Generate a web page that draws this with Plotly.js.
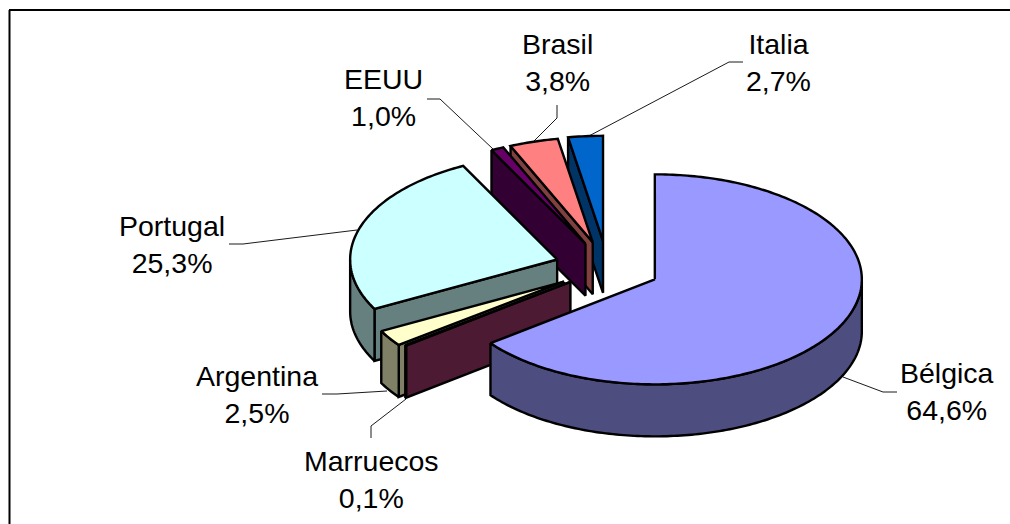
<!DOCTYPE html>
<html>
<head>
<meta charset="utf-8">
<script src="https://cdn.plot.ly/plotly-3.0.1.min.js"></script>
<style>html,body{margin:0;padding:0;background:#fff}#chart{width:1010px;height:524px}</style>
</head>
<body>
<div id="chart"></div>
<script>
// Data, clockwise from 12 o'clock
const categories = ["Bélgica", "Marruecos", "Argentina", "Portugal", "EEUU", "Brasil", "Italia"];
const shares = [64.6, 0.1, 2.5, 25.3, 1.0, 3.8, 2.7];
const topColors = ["#9999FF", "#993366", "#FFFFCC", "#CCFFFF", "#660066", "#FF8080", "#0066CC"];
const sideColors = ["#4D4D80", "#4D1A33", "#808066", "#668080", "#330033", "#804040", "#003366"];

// Pie projection (drawn on pixel-scaled hidden axes)
const centre = {x: 607.5, y: 267.5};
const radiusX = 207, radiusY = 105, depth = 52;
const explode = [0.255, 0.225, 0.25, 0.255, 0.25, 0.25, 0.255];
const outline = {color: "#000", width: 2.4};

// Label placement and leader lines
const labelX = [947, 371, 257, 172, 383, 557, 778];
const labelY = [391, 479, 394, 244, 97, 62, 62];
const leaders = [
  [[897,392],[883,392],[843,377]],
  [[371,438],[371,426],[406,399]],
  [[322,394],[337,394],[387,391]],
  [[229,244],[243,244],[357,230]],
  [[427,99],[440,99],[493,149]],
  [[557,105],[557,118],[533,142]],
  [[743,62],[729,62],[587,137]]
];

const rad = d => d * Math.PI / 180;
const total = shares.reduce((a, b) => a + b, 0);
let cursor = 0;
const slices = shares.map((v, i) => {
  const start = cursor, end = cursor + v / total * 360;
  cursor = end;
  const mid = rad((start + end) / 2);
  return {i, start, end,
    apex: {x: centre.x + explode[i] * radiusX * Math.sin(mid),
           y: centre.y - explode[i] * radiusY * Math.cos(mid)}};
});

function rim(s, deg, dz) {
  return {x: s.apex.x + radiusX * Math.sin(rad(deg)),
          y: s.apex.y - radiusY * Math.cos(rad(deg)) + dz};
}
function arc(s, a, b, dz) {
  const pts = [], n = Math.max(2, Math.ceil(Math.abs(b - a)));
  for (let k = 0; k <= n; k++) pts.push(rim(s, a + (b - a) * k / n, dz));
  return pts;
}
function poly(pts, color) {
  const p = pts.concat([pts[0]]);
  return {type: "scatter", mode: "lines", x: p.map(q => q.x), y: p.map(q => q.y),
    fill: "toself", fillcolor: color, line: {color: outline.color, width: outline.width, simplify: false},
    hoverinfo: "skip", showlegend: false};
}

const traces = [];
// Painter's order: back slices first, Bélgica last
[6, 5, 4, 3, 2, 1, 0].forEach(idx => {
  const s = slices[idx], top = topColors[idx], side = sideColors[idx];
  const a0 = {x: s.apex.x, y: s.apex.y}, a1 = {x: s.apex.x, y: s.apex.y + depth};
  if (s.start > 180) {
    const r = rim(s, s.start, 0), rb = rim(s, s.start, depth);
    traces.push(poly([a0, r, rb, a1], side));
  }
  const f0 = Math.max(s.start, 90), f1 = Math.min(s.end, 270);
  if (f1 > f0) {
    traces.push(poly(arc(s, f0, f1, 0).concat(arc(s, f1, f0, depth)), side));
  }
  traces.push(poly([a0].concat(arc(s, s.start, s.end, 0)), top));
});
leaders.forEach(l => traces.push({type: "scatter", mode: "lines",
  x: l.map(p => p[0]), y: l.map(p => p[1]),
  line: {color: "#000", width: 0.9}, hoverinfo: "skip", showlegend: false}));

const annotations = categories.map((c, i) => ({
  x: labelX[i], y: labelY[i], xref: "x", yref: "y", xanchor: "center", yanchor: "middle",
  showarrow: false, align: "center",
  text: c + "<br>" + shares[i].toFixed(1).replace(".", ",") + "%",
  font: {family: "Liberation Sans, Arial, sans-serif", size: 28.5, color: "#000"}
}));

const layout = {
  width: 1010, height: 524, margin: {l: 0, r: 0, t: 0, b: 0},
  paper_bgcolor: "#fff", plot_bgcolor: "#fff", showlegend: false,
  xaxis: {range: [0, 1010], visible: false, fixedrange: true},
  yaxis: {range: [524, 0], visible: false, fixedrange: true},
  annotations,
  shapes: [
    {type: "line", xref: "x", yref: "y", x0: 9, x1: 1010, y0: 10, y1: 10, line: {color: "#000", width: 2}},
    {type: "line", xref: "x", yref: "y", x0: 9.5, x1: 9.5, y0: 10, y1: 524, line: {color: "#000", width: 2}}
  ]
};
Plotly.newPlot("chart", traces, layout, {displayModeBar: false, staticPlot: true});
</script>
</body>
</html>
